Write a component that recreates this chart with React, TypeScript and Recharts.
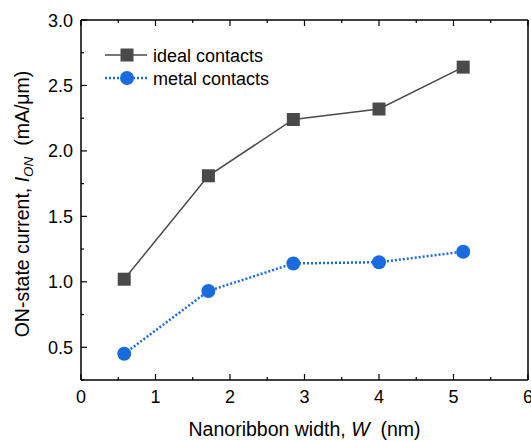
import React from 'react';
import { LineChart, Line, XAxis, YAxis } from 'recharts';

const widths = [0.58, 1.71, 2.85, 4.0, 5.13];
const idealContacts = [1.02, 1.81, 2.24, 2.32, 2.64];
const metalContacts = [0.45, 0.93, 1.14, 1.15, 1.23];

const xTicks = [0, 0.5, 1, 1.5, 2, 2.5, 3, 3.5, 4, 4.5, 5, 5.5, 6];
const yTicks = [0.25, 0.5, 0.75, 1, 1.25, 1.5, 1.75, 2, 2.25, 2.5, 2.75, 3];

const data = widths.map((w, i) => ({ w, ideal: idealContacts[i], metal: metalContacts[i] }));

const FONT = '"Liberation Sans", Arial, sans-serif';
const GRAY = '#4a4a4a';
const BLUE = '#1a6ae0';

const isMajor = (v: number) => Math.abs(v - Math.round(v)) < 1e-6;
const isMajorY = (v: number) => Math.abs(v * 2 - Math.round(v * 2)) < 1e-6;

// ticks point inward, majors longer; tickSize=0 so (x, y) sits on the axis line
const BottomTick = (props: any) => {
  const { x, y, payload } = props;
  const len = isMajor(payload.value) ? 6 : 3;
  return (
    <g>
      <line x1={x} y1={y} x2={x} y2={y - len} stroke="#000" strokeWidth={1.2} />
      {isMajor(payload.value) && (
        <text x={x} y={y + 23} textAnchor="middle" fontSize={18} fontFamily={FONT} fill="#000">
          {payload.value}
        </text>
      )}
    </g>
  );
};

const TopTick = (props: any) => {
  const { x, y, payload } = props;
  const len = isMajor(payload.value) ? 6 : 3;
  return <line x1={x} y1={y} x2={x} y2={y + len} stroke="#000" strokeWidth={1.2} />;
};

const LeftTick = (props: any) => {
  const { x, y, payload } = props;
  const major = isMajorY(payload.value);
  const len = major ? 6 : 3;
  return (
    <g>
      <line x1={x} y1={y} x2={x + len} y2={y} stroke="#000" strokeWidth={1.2} />
      {major && (
        <text x={x - 8} y={y + 6.5} textAnchor="end" fontSize={18} fontFamily={FONT} fill="#000">
          {payload.value.toFixed(1)}
        </text>
      )}
    </g>
  );
};

const RightTick = (props: any) => {
  const { x, y, payload } = props;
  const len = isMajorY(payload.value) ? 6 : 3;
  return <line x1={x} y1={y} x2={x - len} y2={y} stroke="#000" strokeWidth={1.2} />;
};

const Square = (props: any) => {
  const { cx, cy } = props;
  if (cx == null || cy == null) return null;
  return <rect x={cx - 6.5} y={cy - 6.5} width={13} height={13} fill={GRAY} />;
};

const Circle = (props: any) => {
  const { cx, cy } = props;
  if (cx == null || cy == null) return null;
  return <circle cx={cx} cy={cy} r={7} fill={BLUE} />;
};

const YLabel = (props: any) => {
  const { viewBox } = props;
  const cx = viewBox.x + 29;
  const cy = viewBox.y + viewBox.height / 2 + 4;
  return (
    <text
      x={cx}
      y={cy}
      transform={`rotate(-90 ${cx} ${cy})`}
      textAnchor="middle"
      fontSize={19.5}
      fontFamily={FONT}
      fill="#000"
      style={{ whiteSpace: 'pre' }}
    >
      <tspan>ON-state current, </tspan>
      <tspan fontStyle="italic">I</tspan>
      <tspan fontStyle="italic" fontSize={13.5} dy={4}>ON</tspan>
      <tspan dy={-4}>{'  (mA/\u03bcm)'}</tspan>
    </text>
  );
};

const XLabel = (props: any) => {
  const { viewBox } = props;
  const cx = viewBox.x + viewBox.width / 2;
  return (
    <text
      x={cx}
      y={viewBox.y + 56}
      textAnchor="middle"
      fontSize={19.5}
      fontFamily={FONT}
      fill="#000"
      style={{ whiteSpace: 'pre' }}
    >
      <tspan>Nanoribbon width, </tspan>
      <tspan fontStyle="italic">W</tspan>
      <tspan>{'  (nm)'}</tspan>
    </text>
  );
};

const LegendBox = () => (
  <svg
    width={531}
    height={441}
    style={{ position: 'absolute', left: 0, top: 0, pointerEvents: 'none' }}
  >
    <line x1={105} y1={55} x2={147} y2={55} stroke={GRAY} strokeWidth={1.5} />
    <rect x={120.5} y={48.5} width={13} height={13} fill={GRAY} />
    <text x={153} y={61.5} fontSize={18} fontFamily={FONT} fill="#000">ideal contacts</text>
    <line x1={105} y1={78} x2={147} y2={78} stroke={BLUE} strokeWidth={2.5} strokeDasharray="2 2" />
    <circle cx={127} cy={78} r={7} fill={BLUE} />
    <text x={153} y={84.5} fontSize={18} fontFamily={FONT} fill="#000">metal contacts</text>
  </svg>
);

export default function App() {
  return (
    <div style={{ position: 'fixed', left: 0, top: 0, width: 531, height: 441, background: '#fff' }}>
      <LineChart width={531} height={441} data={data} margin={{ top: 0, right: 0, bottom: 0, left: 0 }}>
        <XAxis
          xAxisId="bottom"
          dataKey="w"
          type="number"
          domain={[0, 6]}
          ticks={xTicks}
          interval={0}
          height={61}
          tickSize={0}
          tickMargin={0}
          tick={<BottomTick />}
          tickLine={false}
          axisLine={{ stroke: '#000', strokeWidth: 1.5 }}
          label={<XLabel />}
        />
        <XAxis
          xAxisId="top"
          orientation="top"
          dataKey="w"
          type="number"
          domain={[0, 6]}
          ticks={xTicks}
          interval={0}
          height={20}
          tickSize={0}
          tickMargin={0}
          tick={<TopTick />}
          tickLine={false}
          axisLine={{ stroke: '#000', strokeWidth: 1.5 }}
        />
        <YAxis
          yAxisId="left"
          type="number"
          domain={[0.25, 3]}
          ticks={yTicks}
          interval={0}
          width={81}
          tickSize={0}
          tickMargin={0}
          tick={<LeftTick />}
          tickLine={false}
          axisLine={{ stroke: '#000', strokeWidth: 1.5 }}
          label={<YLabel />}
        />
        <YAxis
          yAxisId="right"
          orientation="right"
          type="number"
          domain={[0.25, 3]}
          ticks={yTicks}
          interval={0}
          width={3}
          tickSize={0}
          tickMargin={0}
          tick={<RightTick />}
          tickLine={false}
          axisLine={{ stroke: '#000', strokeWidth: 1.5 }}
        />
        <Line
          xAxisId="bottom"
          yAxisId="left"
          dataKey="ideal"
          stroke={GRAY}
          strokeWidth={1.5}
          dot={<Square />}
          activeDot={false}
          isAnimationActive={false}
        />
        <Line
          xAxisId="bottom"
          yAxisId="left"
          dataKey="metal"
          stroke={BLUE}
          strokeWidth={2.5}
          strokeDasharray="2 2"
          dot={<Circle />}
          activeDot={false}
          isAnimationActive={false}
        />
      </LineChart>
      <LegendBox />
    </div>
  );
}
